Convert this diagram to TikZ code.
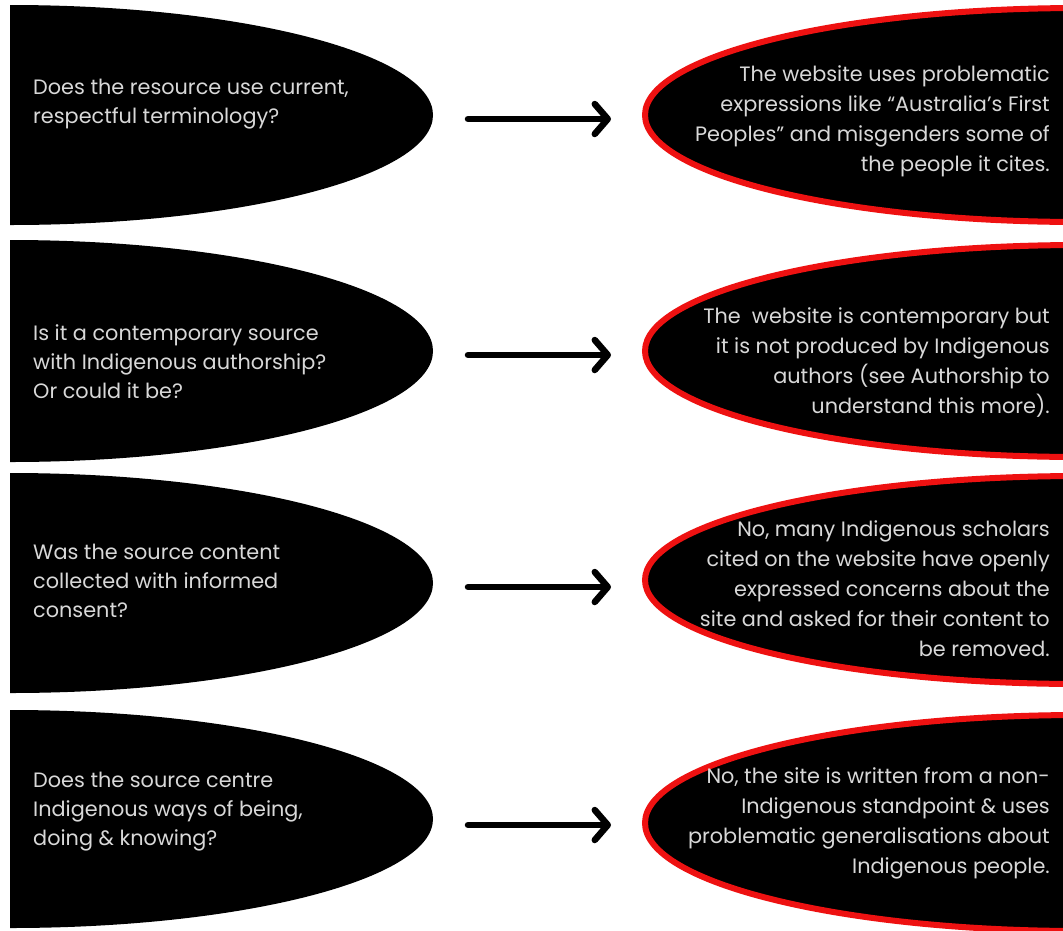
\documentclass[tikz,border=0pt]{standalone}
\usepackage{fontspec}
\setmainfont{Poppins}
\usetikzlibrary{arrows.meta}
\definecolor{txt}{HTML}{D8D8D8}
\definecolor{ringred}{HTML}{EE1111}
\begin{document}
\begin{tikzpicture}[x=1pt,y=-1pt,
  qshape/.style={fill=black},
  ashape/.style={fill=black, draw=ringred, line width=6pt},
  qtext/.style={text=txt, font=\fontsize{20.8}{29}\selectfont, align=left, anchor=west, inner sep=0pt},
  atext/.style={text=txt, font=\fontsize{20.8}{30}\selectfont, align=right, anchor=east, inner sep=0pt},
  arrowline/.style={line width=6.5pt, line cap=round, -{Straight Barb[length=13pt,width=30pt,round]}}]
\clip (0,0) rectangle (1063,930);
\fill[white] (0,0) rectangle (1063,930);
% left question shapes
\begin{scope}
\clip (10,0) rectangle (600,930);
\fill[qshape] (10,115) ellipse [x radius=423pt, y radius=110pt];
\fill[qshape] (10,351) ellipse [x radius=423pt, y radius=111pt];
\fill[qshape] (10,583) ellipse [x radius=423pt, y radius=110pt];
\fill[qshape] (10,819) ellipse [x radius=423pt, y radius=109pt];
\end{scope}
% right answer shapes
\draw[ashape] (1080,115) ellipse [x radius=435pt, y radius=107pt];
\draw[ashape] (1080,351) ellipse [x radius=435pt, y radius=106pt];
\draw[ashape] (1080,580) ellipse [x radius=435pt, y radius=104pt];
\draw[ashape] (1080,823) ellipse [x radius=435pt, y radius=108pt];
% texts
\node[qtext] (q1) at (33,104) {Does the resource use current,\\respectful terminology?};
\node[qtext] (q2) at (33,362) {Is it a contemporary source\\with Indigenous authorship?\\Or could it be?};
\node[qtext] (q3) at (33,581) {Was the source content\\collected with informed\\consent?};
\node[qtext] (q4) at (33,812) {Does the source centre\\Indigenous ways of being,\\doing \& knowing?};
\node[atext] (a1) at (1050,121) {The website uses problematic\\expressions like “Australia's First\\Peoples” and misgenders some of\\the people it cites.};
\node[atext] (a2) at (1050,363) {The\ \ website is contemporary but\\it is not produced by Indigenous\\authors (see Authorship to\\understand this more).};
\node[atext] (a3) at (1050,589) {No, many Indigenous scholars\\cited on the website have openly\\expressed concerns about the\\site and asked for their content to\\be removed.};
\node[atext] (a4) at (1050,823) {No, the site is written from a non-\\Indigenous standpoint \& uses\\problematic generalisations about\\Indigenous people.};
% arrows
\coordinate (s1) at (468,119); \coordinate (e1) at (611,119);
\coordinate (s2) at (468,355); \coordinate (e2) at (611,355);
\coordinate (s3) at (468,587); \coordinate (e3) at (611,587);
\coordinate (s4) at (468,825); \coordinate (e4) at (611,825);
\draw[arrowline] (s1) -- (e1);
\draw[arrowline] (s2) -- (e2);
\draw[arrowline] (s3) -- (e3);
\draw[arrowline] (s4) -- (e4);
\end{tikzpicture}
\end{document}
